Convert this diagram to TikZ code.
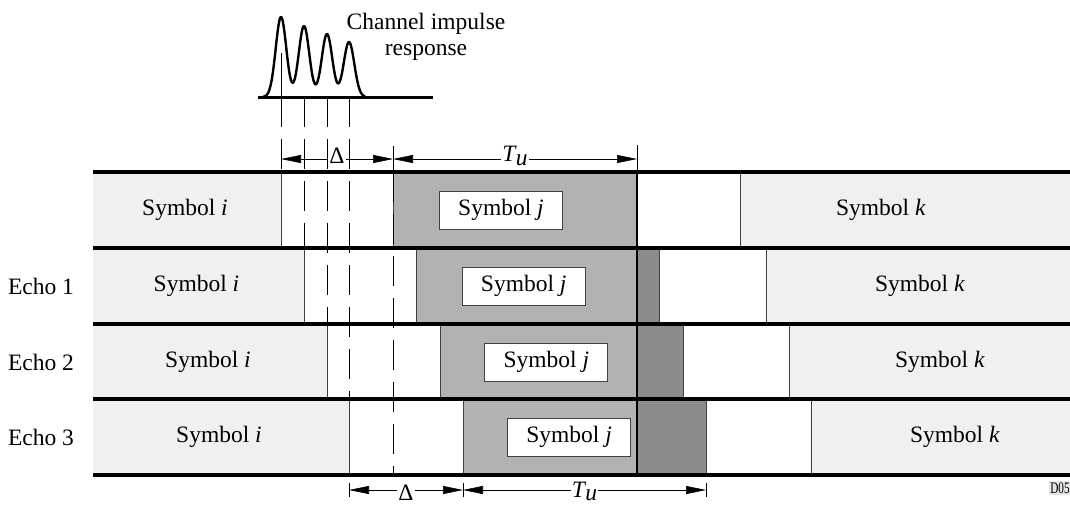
\documentclass[tikz,border=0pt]{standalone}
\usepackage{fontspec}
\setmainfont{Liberation Serif}
\usetikzlibrary{arrows.meta}
\definecolor{symlight}{gray}{0.94}
\definecolor{symmid}{gray}{0.70}
\definecolor{symdark}{gray}{0.55}

\begin{document}
\begin{tikzpicture}[x=1pt, y=-1pt,
    txt/.style={font=\fontsize{23.5}{26}\selectfont, inner sep=1pt},
    rule/.style={line width=3.2pt},
    edge/.style={line width=1pt, draw=black!75},
    guide/.style={line width=1pt, dash pattern=on 30pt off 12pt},
    dim/.style={line width=0.6pt, {Triangle[length=20pt,width=8pt]}-{Triangle[length=20pt,width=8pt]}},
    symbox/.style={txt, draw=black!75, line width=1pt, fill=white, minimum width=123pt, minimum height=38pt}]
  \useasboundingbox (0,0) rectangle (1070,504);

  % one row per echo: top, end of i, start of j, end of j, start of k, label x of k
  \foreach \r/\yt/\ei/\sj/\ej/\sk/\kx in {0/172/281/393/637/740/881, 1/248/304/416/659/766/920,
                                         2/324/327/440/683/789/940, 3/399/349/463/706/811/955} {
    \pgfmathsetmacro\yb{\yt+76}
    \fill[symlight] (93,\yt) rectangle (\ei,\yb);
    \fill[symmid] (\sj,\yt) rectangle (637,\yb);
    \fill[symdark] (637,\yt) rectangle (\ej,\yb);
    \fill[symlight] (\sk,\yt) rectangle (1070,\yb);
    \foreach \x in {\ei,\sj,\ej,\sk}
      \draw[edge] (\x,\yt) -- (\x,\yb);
    \node[txt] (symi\r) at ({(93+\ei)/2-2},{\yt+38}) {Symbol \textit{i}};
    \node[symbox] (symj\r) at ({501+22.7*\r},{\yt+38}) {Symbol \textit{j}};
    \node[txt] (symk\r) at (\kx,{\yt+38}) {Symbol \textit{k}};
    \ifnum\r>0
      \node[txt] (echo\r) at (41,{\yt+38}) {Echo \r};
    \fi
  }
  \draw[line width=1.8pt] (637,172) -- (637,475);

  % dashed guides dropped from the impulse peaks
  \foreach \x/\ye in {281/172, 304/248, 327/324, 349/399}
    \draw[guide] (\x,97) -- (\x,\ye);
  \draw[guide] (393,172) -- (393,475);
  \draw[line width=1pt] (281,53) -- (281,97);

  \foreach \y in {172,248,324,399,475}
    \draw[rule] (93,\y) -- (1070,\y);

  % channel impulse response
  \coordinate (base0) at (258,97);
  \coordinate (base1) at (433,97);
  \draw[line width=2.4pt, line join=round] plot[domain=263:365, samples=160, smooth]
    (\x, {97 - 80*exp(max(-(\x-281)*(\x-281)/56,-9)) - 71*exp(max(-(\x-304)*(\x-304)/56,-9))
              - 63*exp(max(-(\x-327)*(\x-327)/56,-9)) - 55*exp(max(-(\x-349)*(\x-349)/56,-9))});
  \draw[line width=3pt] (base0) -- (base1);
  \node[txt, align=center] (cir) at (426,37) {Channel impulse\\response};

  % guard interval and useful part
  \coordinate (d0) at (281,159);
  \coordinate (d1) at (393,159);
  \coordinate (d2) at (637,159);
  \draw[line width=0.6pt] (393,146) -- (393,172) (637,145) -- (637,172);
  \draw[dim] (d0) -- node[txt, fill=white, yshift=3pt] (delta0) {Δ} (d1);
  \draw[dim] (d1) -- node[txt, fill=white, yshift=3pt] (tu0) {\textit{T}\kern-1pt\raisebox{-4pt}{\textit{u}}} (d2);

  \coordinate (e0) at (349,490);
  \coordinate (e1) at (463,490);
  \coordinate (e2) at (706,490);
  \foreach \x in {349,463,706}
    \draw[line width=0.6pt] (\x,483) -- (\x,497);
  \draw[dim] (e0) -- node[txt, fill=white, inner ysep=0pt, yshift=-3pt] (delta1) {Δ} (e1);
  \draw[dim] (e1) -- node[txt, fill=white, inner ysep=0pt, yshift=-1pt] (tu1) {\textit{T}\kern-1pt\raisebox{-3pt}{\textit{u}}} (e2);

  \node[fill=black!10, font=\fontsize{16}{18}\selectfont, inner sep=1.5pt] (tag) at (1060,488) {\scalebox{0.7}[1]{D05}};
\end{tikzpicture}
\end{document}
